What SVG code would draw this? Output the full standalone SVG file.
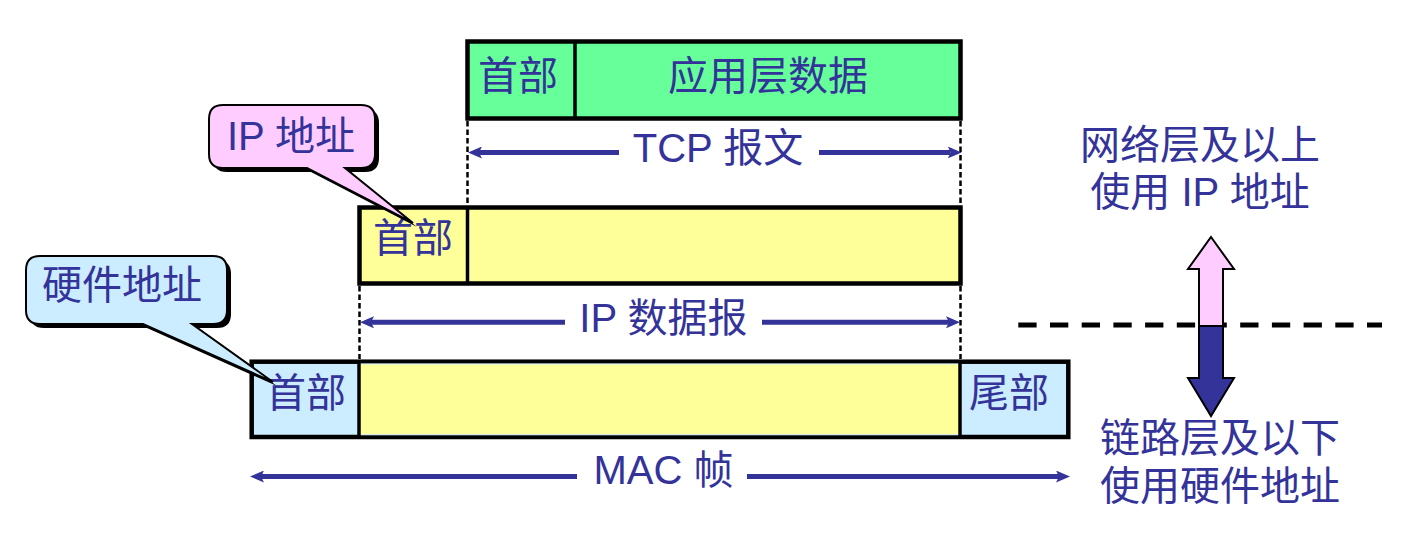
<svg xmlns="http://www.w3.org/2000/svg" width="1411" height="535" viewBox="0 0 1411 535">
<style>
.t{font-family:"Liberation Sans","Noto Sans CJK SC",sans-serif;font-size:40px;fill:#333399;text-anchor:middle}
.box{stroke:#000;stroke-width:4.5}
.div{stroke:#000;stroke-width:3.5}
.dash{stroke:#000;stroke-width:2.5;stroke-dasharray:5.5 3;fill:none}
.dim{stroke:#333399;stroke-width:5;fill:none;marker-end:url(#ah)}
.co{stroke:#000;stroke-width:2}
</style>
<defs>
<marker id="ah" markerUnits="userSpaceOnUse" markerWidth="15" markerHeight="12" refX="3" refY="6" orient="auto">
<path d="M0,0 L14,6 L0,12 L3,6 Z" fill="#333399"/>
</marker>
</defs>
<rect width="1411" height="535" fill="#fff"/>

<g id="tcp-segment">
<rect x="467.5" y="41.5" width="493" height="77" fill="#66FF99" class="box"/>
<line x1="575" y1="41.5" x2="575" y2="118.5" class="div"/>
<text x="518" y="89.5" class="t">首部</text>
<text x="768" y="89.5" class="t">应用层数据</text>
</g>

<g id="ip-datagram">
<rect x="359.5" y="207.5" width="601" height="76" fill="#FFFF99" class="box"/>
<line x1="467.5" y1="207.5" x2="467.5" y2="283.5" class="div"/>
<text x="413" y="252" class="t">首部</text>
</g>

<g id="mac-frame">
<rect x="251.7" y="361.7" width="816.6" height="75.3" fill="#CCECFF" class="box"/>
<rect x="359" y="363.9" width="601" height="70.9" fill="#FFFF99" stroke="#CCECFF" stroke-width="1"/>
<line x1="359" y1="361.7" x2="359" y2="437" class="div"/>
<line x1="960" y1="361.7" x2="960" y2="437" class="div"/>
<text x="306" y="407" class="t">首部</text>
<text x="1009" y="407" class="t">尾部</text>
</g>

<g id="callout-ip">
<path transform="translate(4,4)" d="M223,105 H361 Q375,105 375,119 V154 Q375,168 361,168 H345 L413,223 L307,168 H223 Q209,168 209,154 V119 Q209,105 223,105 Z" fill="#000"/>
<path d="M223,105 H361 Q375,105 375,119 V154 Q375,168 361,168 H345 L413,223 L307,168 H223 Q209,168 209,154 V119 Q209,105 223,105 Z" fill="#FFCCFF" class="co"/>
<text x="291" y="150" class="t">IP 地址</text>
</g>

<g id="callout-hw">
<path transform="translate(4,4)" d="M40,256 H213 Q227,256 227,270 V310 Q227,324 213,324 H192 L273,382 L143,324 H40 Q26,324 26,310 V270 Q26,256 40,256 Z" fill="#000"/>
<path d="M40,256 H213 Q227,256 227,270 V310 Q227,324 213,324 H192 L273,382 L143,324 H40 Q26,324 26,310 V270 Q26,256 40,256 Z" fill="#CCECFF" class="co"/>
<text x="122" y="299" class="t">硬件地址</text>
</g>

<g id="connectors">
<line x1="467.5" y1="121" x2="467.5" y2="205" class="dash"/>
<line x1="960.5" y1="121" x2="960.5" y2="205" class="dash"/>
<line x1="359.5" y1="286" x2="359.5" y2="359" class="dash"/>
<line x1="960.5" y1="286" x2="960.5" y2="359" class="dash"/>
<line x1="619" y1="152.5" x2="479" y2="152.5" class="dim"/>
<line x1="819" y1="152.5" x2="950.7" y2="152.5" class="dim"/>
<line x1="565" y1="322.3" x2="371" y2="322.3" class="dim"/>
<line x1="762" y1="322.3" x2="949" y2="322.3" class="dim"/>
<line x1="577" y1="476.5" x2="261" y2="476.5" class="dim"/>
<line x1="747" y1="476.5" x2="1059" y2="476.5" class="dim"/>
</g>

<g id="dim-labels">
<text x="718" y="161.7" class="t">TCP 报文</text>
<text x="663.4" y="331.7" class="t">IP 数据报</text>
<text x="663.4" y="484" class="t">MAC 帧</text>
</g>

<g id="layer-divider">
<line x1="1018.3" y1="325" x2="1382" y2="325" stroke="#000" stroke-width="5" stroke-dasharray="18.3 13.4"/>
</g>

<g id="layer-arrow">
<path d="M1211,237 L1234,269 L1223,269 L1223,326 L1199,326 L1199,269 L1188,269 Z" fill="#FFCCFF" stroke="#000" stroke-width="2" stroke-linejoin="miter"/>
<path d="M1199,326 L1223,326 L1223,378 L1234,378 L1211,416 L1188,378 L1199,378 Z" fill="#333399" stroke="#000" stroke-width="2"/>
</g>

<g id="layer-labels">
<text x="1200" y="159" class="t">网络层及以上</text>
<text x="1200" y="206" class="t">使用 IP 地址</text>
<text x="1220" y="452" class="t">链路层及以下</text>
<text x="1220" y="500" class="t">使用硬件地址</text>
</g>
</svg>
